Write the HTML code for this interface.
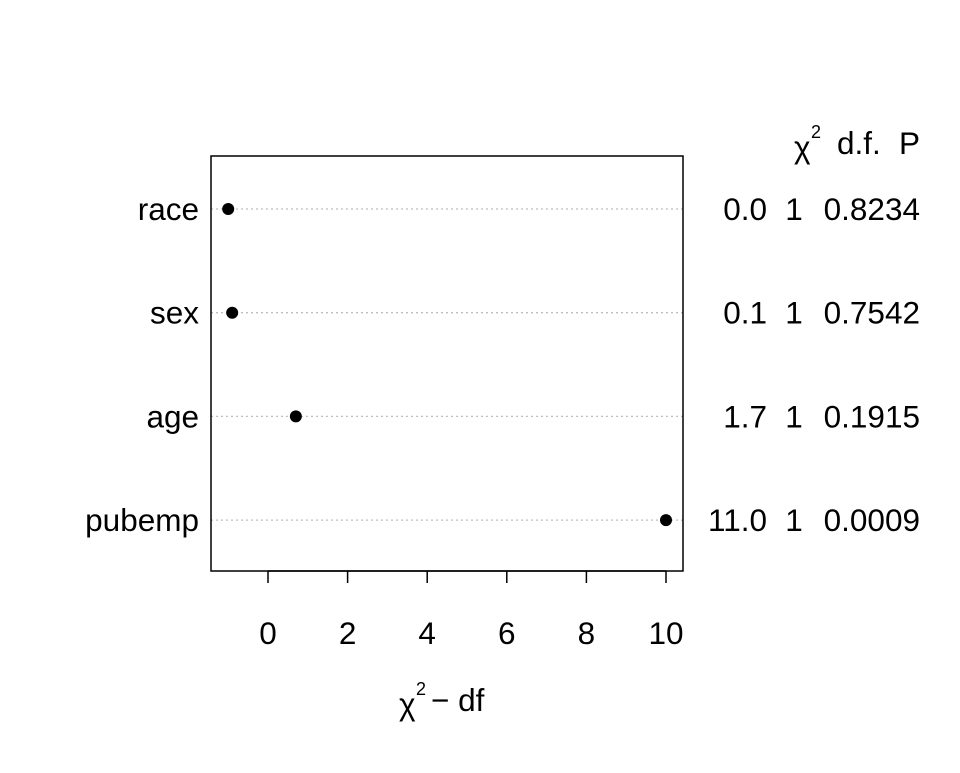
<!DOCTYPE html>
<html><head><meta charset="utf-8"><style>
body{margin:0;background:#fff;}
svg text{font-family:"Liberation Sans",Arial,sans-serif;fill:#000;}
</style></head><body>
<svg width="960" height="768" viewBox="0 0 960 768">
<rect x="0" y="0" width="960" height="768" fill="#fff"/>
<g id="plot"></g>
</svg>
<script>
const categories=["race","sex","age","pubemp"];
const values=[-1.0,-0.9,0.7,10.0];
const chi2Labels=["0.0","0.1","1.7","11.0"];
const dfLabels=["1","1","1","1"];
const pLabels=["0.8234","0.7542","0.1915","0.0009"];
const xTicks=[0,2,4,6,8,10];
const NS="http://www.w3.org/2000/svg";
const g=document.getElementById('plot');
function mk(t,a,txt){const e=document.createElementNS(NS,t);for(const k in a)e.setAttribute(k,a[k]);if(txt!==undefined)e.textContent=txt;g.appendChild(e);return e;}
const L=211,R=683,T=156,B=571;
const FS=31.5;
const xs=v=>268+(v-0)*(666-268)/10;
const ys=i=>209+i*103.7;
categories.forEach((c,i)=>{
 const y=ys(i);
 let e=mk('line',{x1:L,x2:R,y1:y,y2:y,stroke:'#bebebe','stroke-width':1.3,'stroke-dasharray':'2,3'});
 
 
 e=mk('circle',{cx:xs(values[i]),cy:y,r:6,fill:'#000'});
 
 
 e=mk('text',{x:199,y:y+11,'font-size':FS,'text-anchor':'end'},c);
 
 
 e=mk('text',{x:767,y:y+11,'font-size':FS,'text-anchor':'end'},chi2Labels[i]);
 
 
 e=mk('text',{x:794,y:y+11,'font-size':FS,'text-anchor':'middle'},dfLabels[i]);
 
 
 e=mk('text',{x:920,y:y+11,'font-size':FS,'text-anchor':'end'},pLabels[i]);
 
 
});
let box=mk('rect',{x:L,y:T,width:R-L,height:B-T,fill:'none',stroke:'#000','stroke-width':1.5});


let ax=mk('line',{x1:xs(0),x2:xs(10),y1:B,y2:B,stroke:'#000','stroke-width':1.5});


xTicks.forEach(t=>{
 let e=mk('line',{x1:xs(t),x2:xs(t),y1:B,y2:B+12,stroke:'#000','stroke-width':1.5});
 
 
 e=mk('text',{x:xs(t),y:644,'font-size':FS,'text-anchor':'middle'},String(t));
 
 
});
</script>
<svg style="position:absolute;left:0;top:0" width="960" height="768">
<g>
<text x="399" y="715" font-size="31.5">χ</text><text x="416" y="695" font-size="18">2</text><text x="431" y="711" font-size="31.5">− df</text>
</g>
<g>
<text x="794" y="158" font-size="31.5">χ</text><text x="811" y="138" font-size="18">2</text>
<text x="837" y="154" font-size="31.5">d.f.</text>
<text x="899" y="154" font-size="31.5">P</text>
</g>
</svg>
</body></html>
